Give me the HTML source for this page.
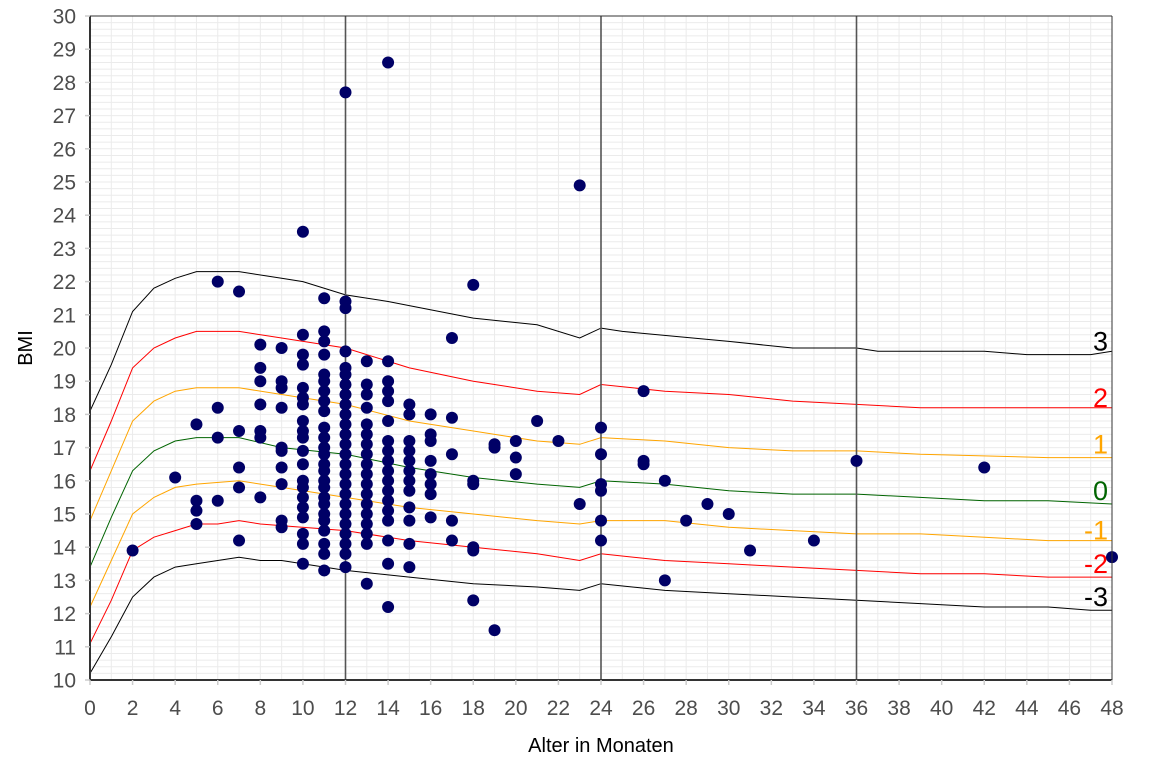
<!DOCTYPE html>
<html><head><meta charset="utf-8"><style>
body{margin:0;background:#fff}
svg text{font-family:"Liberation Sans",sans-serif}
</style></head><body>
<svg id="chart" width="1152" height="768" xmlns="http://www.w3.org/2000/svg">
<g id="grid"></g>
<g id="curves"></g>
<g id="vlines"></g>
<g id="pts"></g>
<g id="axes"></g>
<text transform="translate(32,348) rotate(-90)" text-anchor="middle" font-size="20" fill="#000">BMI</text>
<text x="601" y="752" text-anchor="middle" font-size="20" fill="#000">Alter in Monaten</text>
</svg>
<script>
const sdNames=["3","2","1","0","-1","-2","-3"];
const sdColors=["#000","#f00","#ffa500","#006400","#ffa500","#f00","#000"];
const sdMonths=[[0,1,2,3,4,5,7,9,10,12,14,18,21,23,24,25,30,33,36,37,42,44,47,48],
[0,1,2,3,4,5,7,9,12,15,18,21,23,24,27,30,33,36,39,48],
[0,1,2,3,4,5,7,9,12,15,18,21,23,24,27,30,33,36,39,45,48],
[0,1,2,3,4,5,7,9,12,15,18,21,23,24,27,30,33,36,39,42,45,48],
[0,1,2,3,4,5,7,9,12,15,18,21,23,24,27,30,33,36,39,42,45,48],
[0,1,2,3,4,5,6,7,8,12,15,18,21,23,24,27,30,33,36,39,42,45,48],
[0,1,2,3,4,5,7,8,9,12,15,18,21,23,24,27,30,33,36,39,42,45,47,48]];
const sdValues=[[18.1,19.5,21.1,21.8,22.1,22.3,22.3,22.1,22.0,21.6,21.4,20.9,20.7,20.3,20.6,20.5,20.2,20.0,20.0,19.9,19.9,19.8,19.8,19.9],
[16.3,17.8,19.4,20.0,20.3,20.5,20.5,20.3,20.0,19.4,19.0,18.7,18.6,18.9,18.7,18.6,18.4,18.3,18.2,18.2],
[14.8,16.3,17.8,18.4,18.7,18.8,18.8,18.6,18.3,17.8,17.5,17.2,17.1,17.3,17.2,17.0,16.9,16.9,16.8,16.7,16.7],
[13.4,14.9,16.3,16.9,17.2,17.3,17.3,17.0,16.8,16.4,16.1,15.9,15.8,16.0,15.9,15.7,15.6,15.6,15.5,15.4,15.4,15.3],
[12.2,13.6,15.0,15.5,15.8,15.9,16.0,15.8,15.5,15.2,15.0,14.8,14.7,14.8,14.8,14.6,14.5,14.4,14.4,14.3,14.2,14.2],
[11.1,12.4,13.9,14.3,14.5,14.7,14.7,14.8,14.7,14.5,14.2,14.0,13.8,13.6,13.8,13.6,13.5,13.4,13.3,13.2,13.2,13.1,13.1],
[10.2,11.3,12.5,13.1,13.4,13.5,13.7,13.6,13.6,13.3,13.1,12.9,12.8,12.7,12.9,12.7,12.6,12.5,12.4,12.3,12.2,12.2,12.1,12.1]];
const labelY=[20.2,18.5,17.1,15.7,14.5,13.5,12.5];
const ptMonths=[2,4,5,5,5,5,6,6,6,6,7,7,7,7,7,8,8,8,8,8,8,8,9,9,9,9,9,9,9,9,9,9,
10,10,10,10,10,10,10,10,10,10,10,10,10,10,10,10,10,10,10,10,
11,11,11,11,11,11,11,11,11,11,11,11,11,11,11,11,11,11,11,11,11,11,11,11,11,
12,12,12,12,12,12,12,12,12,12,12,12,12,12,12,12,12,12,12,12,12,12,12,12,12,
13,13,13,13,13,13,13,13,13,13,13,13,13,13,13,13,13,13,
14,14,14,14,14,14,14,14,14,14,14,14,14,14,14,14,14,14,
15,15,15,15,15,15,15,15,15,15,15,15,16,16,16,16,16,16,16,16,17,17,17,17,17,
18,18,18,18,18,18,19,19,19,20,20,20,21,22,23,23,24,24,24,24,24,24,26,26,26,27,27,28,29,30,31,34,36,42,48];
const ptBMI=[13.9,16.1,17.7,15.4,15.1,14.7,22.0,18.2,17.3,15.4,21.7,17.5,16.4,15.8,14.2,20.1,19.4,19.0,18.3,17.5,17.3,15.5,20.0,19.0,18.8,18.2,17.0,16.9,16.4,15.9,14.8,14.6,
23.5,20.4,19.8,19.5,18.8,18.5,18.3,17.8,17.5,17.3,16.9,16.5,16.0,15.8,15.5,15.2,14.9,14.4,14.1,13.5,
21.5,20.5,20.2,19.8,19.2,19.0,18.7,18.4,18.1,17.6,17.3,17.0,16.8,16.5,16.3,16.0,15.8,15.5,15.3,15.0,14.8,14.5,14.1,13.8,13.3,
27.7,21.4,21.2,19.9,19.4,19.2,18.9,18.6,18.3,18.0,17.7,17.4,17.1,16.8,16.5,16.2,15.9,15.6,15.3,15.0,14.7,14.4,14.1,13.8,13.4,
19.6,18.9,18.6,18.2,17.7,17.4,17.1,16.8,16.5,16.2,15.9,15.6,15.3,15.0,14.7,14.4,14.1,12.9,
28.6,19.6,19.0,18.7,18.4,17.8,17.2,16.9,16.6,16.3,16.0,15.7,15.4,15.1,14.8,14.2,13.5,12.2,
18.3,18.0,17.2,16.9,16.6,16.3,16.0,15.7,15.2,14.8,14.1,13.4,18.0,17.4,17.2,16.6,16.2,15.9,15.6,14.9,20.3,17.9,16.8,14.8,14.2,
21.9,16.0,15.9,14.0,13.9,12.4,17.1,17.0,11.5,17.2,16.7,16.2,17.8,17.2,24.9,15.3,17.6,16.8,15.9,15.7,14.8,14.2,18.7,16.6,16.5,16.0,13.0,14.8,15.3,15.0,13.9,14.2,16.6,16.4,13.7];
const xTicks=[0,2,4,6,8,10,12,14,16,18,20,22,24,26,28,30,32,34,36,38,40,42,44,46,48];
const yTicks=[10,11,12,13,14,15,16,17,18,19,20,21,22,23,24,25,26,27,28,29,30];

const X0=90,X1=1112,Y0=680,Y1=16;
const sx=m=>X0+(m/48)*(X1-X0), sy=v=>Y0-((v-10)/20)*(Y0-Y1);
const NS="http://www.w3.org/2000/svg";
function mk(tag,parent,attrs){const e=document.createElementNS(NS,tag);for(const k in attrs)e.setAttribute(k,attrs[k]);parent.appendChild(e);return e;}
const grid=document.getElementById('grid');
for(let m=0;m<=48;m++){const l=mk('line',grid,{x1:sx(m),x2:sx(m),y1:Y1,y2:Y0,stroke:'#ebebeb','stroke-width':1});

}
for(let v=10;v<=30.001;v+=0.2){const l=mk('line',grid,{x1:X0,x2:X1,y1:sy(v),y2:sy(v),stroke:'#ebebeb','stroke-width':1});

}
const cg=document.getElementById('curves');
sdNames.forEach((n,i)=>{
 const d=sdMonths[i].map((m,j)=>(j?'L':'M')+sx(m).toFixed(1)+','+sy(sdValues[i][j]).toFixed(1)).join(' ');
 const p=mk('path',cg,{d:d,fill:'none',stroke:sdColors[i],'stroke-width':1});
 
 
 const t=mk('text',cg,{x:1108,y:sy(labelY[i])+9,'text-anchor':'end','font-size':27,fill:sdColors[i]});
 t.textContent=n;
 
 
});
const vg=document.getElementById('vlines');
[12,24,36].forEach(m=>{const l=mk('line',vg,{x1:sx(m),x2:sx(m),y1:Y1,y2:Y0,stroke:'#555','stroke-width':1.6});

});
const pg=document.getElementById('pts');
ptMonths.forEach((m,i)=>{const c=mk('circle',pg,{cx:sx(m),cy:sy(ptBMI[i]),r:6,fill:'#000066'});

});
const ag=document.getElementById('axes');
mk('line',ag,{x1:X0,x2:X1,y1:Y1,y2:Y1,stroke:'#333','stroke-width':1});
mk('line',ag,{x1:X1,x2:X1,y1:Y1,y2:Y0,stroke:'#333','stroke-width':1});
mk('line',ag,{x1:X0,x2:X0,y1:Y1,y2:Y0+1,stroke:'#333','stroke-width':2});
mk('line',ag,{x1:X0-1,x2:X1,y1:Y0,y2:Y0,stroke:'#333','stroke-width':2});
xTicks.forEach(t=>{mk('line',ag,{x1:sx(t),x2:sx(t),y1:Y0,y2:Y0+5,stroke:'#ccc','stroke-width':1.5});
 const e=mk('text',ag,{x:sx(t),y:715,'text-anchor':'middle','font-size':21,fill:'#4d4d4d'});e.textContent=t;
 
 });
yTicks.forEach(t=>{mk('line',ag,{x1:X0-5,x2:X0,y1:sy(t),y2:sy(t),stroke:'#ccc','stroke-width':1.5});
 const e=mk('text',ag,{x:76,y:sy(t)+7.5,'text-anchor':'end','font-size':21,fill:'#4d4d4d'});e.textContent=t;
 
 });
</script>
</body></html>
